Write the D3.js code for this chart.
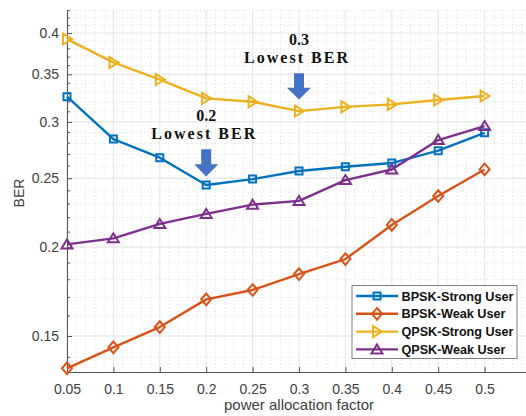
<!DOCTYPE html>
<html>
<head>
<meta charset="utf-8">
<script src="https://cdn.jsdelivr.net/npm/d3@7"></script>
<style>
  body { margin: 0; background: #fff; }
  svg { display: block; }
</style>
</head>
<body>
<svg id="chart" width="526" height="416"></svg>
<script>
// Power allocation factor (x) and bit error rate per user / modulation
const factors     = [0.05, 0.10, 0.15, 0.20, 0.25, 0.30, 0.35, 0.40, 0.45, 0.50];
const bpskStrong  = [0.3255, 0.2838, 0.2672, 0.2446, 0.2493, 0.2559, 0.2595, 0.2626, 0.2733, 0.2896];
const bpskWeak    = [0.1351, 0.1446, 0.1544, 0.1689, 0.1741, 0.1833, 0.1924, 0.2149, 0.2360, 0.2572];
const qpskStrong  = [0.3923, 0.3637, 0.3441, 0.3238, 0.3202, 0.3107, 0.3150, 0.3175, 0.3220, 0.3262];
const qpskWeak    = [0.2018, 0.2058, 0.2156, 0.2227, 0.2295, 0.2323, 0.2485, 0.2572, 0.2829, 0.2960];

const seriesNames = ["BPSK-Strong User", "BPSK-Weak User", "QPSK-Strong User", "QPSK-Weak User"];
const xTickValues = [0.05, 0.1, 0.15, 0.2, 0.25, 0.3, 0.35, 0.4, 0.45, 0.5];
const xTickLabels = ["0.05", "0.1", "0.15", "0.2", "0.25", "0.3", "0.35", "0.4", "0.45", "0.5"];
const yTickValues = [0.15, 0.2, 0.25, 0.3, 0.35, 0.4];
const yTickLabels = ["0.15", "0.2", "0.25", "0.3", "0.35", "0.4"];

// Callouts: arrow over the minimum of each strong-user curve
const calloutX      = [0.2, 0.3];
const calloutLabel  = ["0.2", "0.3"];
const calloutTop    = [0.2745, 0.3512];   // BER at arrow tail
const calloutTip    = [0.2515, 0.3225];   // BER at arrow head
const calloutText1  = [0.3009, 0.3848];   // BER at first text baseline
const calloutText2  = [0.2838, 0.3631];   // BER at second text baseline

const seriesData = [bpskStrong, bpskWeak, qpskStrong, qpskWeak];
const colors  = ["#0072BD", "#D95319", "#EDB120", "#7E2F8E"];
const markers = ["square", "diamond", "triRight", "triUp"];

const svg = d3.select("#chart");
const plotLeft = 67, plotTop = 10, plotRight = 531, plotBottom = 372;

const x = d3.scaleLinear().domain([0.05, 0.55]).range([plotLeft, plotRight]);
const y = d3.scaleLog().domain([0.1335, 0.431]).range([plotBottom, plotTop]);

const gridColor = "#dedede";

// minor grid (dotted)
const xMinor = d3.range(0.05, 0.5501, 0.01).map(v => +v.toFixed(2));
const yMinor = d3.range(0.14, 0.4301, 0.01).map(v => +v.toFixed(2));
svg.append("g").selectAll("line").data(xMinor).join("line")
  .attr("x1", d => x(d)).attr("x2", d => x(d))
  .attr("y1", plotTop).attr("y2", plotBottom)
  .attr("stroke", gridColor).attr("stroke-width", 1).attr("stroke-dasharray", "1,2.5");
svg.append("g").selectAll("line").data(yMinor).join("line")
  .attr("x1", plotLeft).attr("x2", plotRight)
  .attr("y1", d => y(d)).attr("y2", d => y(d))
  .attr("stroke", gridColor).attr("stroke-width", 1).attr("stroke-dasharray", "1,2.5");

// major grid (solid)
svg.append("g").selectAll("line").data(xTickValues).join("line")
  .attr("x1", d => x(d)).attr("x2", d => x(d))
  .attr("y1", plotTop).attr("y2", plotBottom)
  .attr("stroke", "#e6e6e6").attr("stroke-width", 1);
svg.append("g").selectAll("line").data(yTickValues).join("line")
  .attr("x1", plotLeft).attr("x2", plotRight)
  .attr("y1", d => y(d)).attr("y2", d => y(d))
  .attr("stroke", "#e6e6e6").attr("stroke-width", 1);

// axes
const axisColor = "#555";
const xAxis = d3.axisBottom(x).tickValues(xTickValues)
  .tickFormat((d, i) => xTickLabels[i]).tickSizeInner(-5).tickSizeOuter(0).tickPadding(12);
const gx = svg.append("g").attr("transform", `translate(0,${plotBottom})`).call(xAxis);
gx.select(".domain").attr("stroke", axisColor);
gx.selectAll(".tick line").attr("stroke", axisColor);
gx.selectAll(".tick text").attr("fill", "#404040")
  .style("font-family", "Arial, 'Liberation Sans', sans-serif").style("font-size", "14px");

const yAxis = d3.axisLeft(y).tickValues(yTickValues)
  .tickFormat((d, i) => yTickLabels[i]).tickSizeInner(-5).tickSizeOuter(0).tickPadding(8);
const gy = svg.append("g").attr("transform", `translate(${plotLeft},0)`).call(yAxis);
gy.select(".domain").attr("stroke", axisColor);
gy.selectAll(".tick line").attr("stroke", axisColor);
gy.selectAll(".tick text").attr("fill", "#404040")
  .style("font-family", "Arial, 'Liberation Sans', sans-serif").style("font-size", "14px");

// y minor ticks
svg.append("g").selectAll("line").data(yMinor.filter(v => !yTickValues.some(t => Math.abs(t - v) < 1e-9)))
  .join("line")
  .attr("x1", plotLeft).attr("x2", plotLeft + 3)
  .attr("y1", d => y(d)).attr("y2", d => y(d))
  .attr("stroke", axisColor).attr("stroke-width", 1);

// axis labels
svg.append("text")
  .attr("x", (plotLeft + plotRight) / 2).attr("y", 410)
  .attr("text-anchor", "middle")
  .attr("fill", "#404040")
  .style("font-family", "Arial, 'Liberation Sans', sans-serif").style("font-size", "15px")
  .text("power allocation factor");
svg.append("text")
  .attr("transform", `translate(24,${(plotTop + plotBottom) / 2 + 2}) rotate(-90)`)
  .attr("text-anchor", "middle")
  .attr("fill", "#404040")
  .style("font-family", "Arial, 'Liberation Sans', sans-serif").style("font-size", "14px")
  .text("BER");

// marker shapes
function markerPath(type) {
  switch (type) {
    case "square":   return "M-3.5,-3.5H3.5V3.5H-3.5Z";
    case "diamond":  return "M0,-5.8L5,0L0,5.8L-5,0Z";
    case "triRight": return "M5,0L-4,-5.5L-4,5.5Z";
    case "triUp":    return "M0,-5L5.5,4L-5.5,4Z";
  }
}

// series lines and markers
const line = d3.line().x((d, i) => x(factors[i])).y(d => y(d));
seriesData.forEach((vals, s) => {
  const g = svg.append("g");
  g.append("path").datum(vals)
    .attr("d", line)
    .attr("fill", "none")
    .attr("stroke", colors[s])
    .attr("stroke-width", 2.4)
    .attr("stroke-linejoin", "round");
  g.selectAll("path.m").data(vals).join("path")
    .attr("class", "m")
    .attr("transform", (d, i) => `translate(${x(factors[i])},${y(d)})`)
    .attr("d", markerPath(markers[s]))
    .attr("fill", "none")
    .attr("stroke", colors[s])
    .attr("stroke-width", 2);
});

// callouts
const arrowColor = "#4472C4";
calloutX.forEach((cx, i) => {
  const px = x(cx), yTail = y(calloutTop[i]), yTip = y(calloutTip[i]);
  const headH = (yTip - yTail) * 0.45;
  const sw = 5, hw = 12;
  const yNeck = yTip - headH;
  svg.append("path")
    .attr("d", `M${px - sw},${yTail}H${px + sw}V${yNeck}H${px + hw}L${px},${yTip}L${px - hw},${yNeck}H${px - sw}Z`)
    .attr("fill", arrowColor);
  svg.append("text")
    .attr("x", px).attr("y", y(calloutText1[i]))
    .attr("text-anchor", "middle")
    .style("font-family", "'Liberation Serif', 'Times New Roman', serif")
    .style("font-weight", "bold").style("font-size", "16px")
    .attr("fill", "#111")
    .text(calloutLabel[i]);
  svg.append("text")
    .attr("x", px - 3).attr("y", y(calloutText2[i]))
    .attr("text-anchor", "middle")
    .attr("textLength", 104).attr("lengthAdjust", "spacing")
    .style("font-family", "'Liberation Serif', 'Times New Roman', serif")
    .style("font-weight", "bold").style("font-size", "16px")
    .attr("fill", "#111")
    .text("Lowest BER");
});

// legend
const lg = svg.append("g");
lg.append("rect")
  .attr("x", 352).attr("y", 285.5).attr("width", 165).attr("height", 73)
  .attr("fill", "#fff").attr("stroke", "#808080").attr("stroke-width", 1);
seriesNames.forEach((name, i) => {
  const cy = 296 + i * 17.8;
  lg.append("line")
    .attr("x1", 356).attr("x2", 398).attr("y1", cy).attr("y2", cy)
    .attr("stroke", colors[i]).attr("stroke-width", 2.4);
  lg.append("path")
    .attr("transform", `translate(377,${cy})`)
    .attr("d", markerPath(markers[i]))
    .attr("fill", "none").attr("stroke", colors[i]).attr("stroke-width", 2);
  lg.append("text")
    .attr("x", 401.5).attr("y", cy + 4.5)
    .attr("fill", "#111")
    .style("font-family", "Arial, 'Liberation Sans', sans-serif")
    .style("font-weight", "bold").style("font-size", "12.5px")
    .attr("textLength", name.length > 14 ? 112 : 104).attr("lengthAdjust", "spacingAndGlyphs")
    .text(name);
});
</script>
</body>
</html>
